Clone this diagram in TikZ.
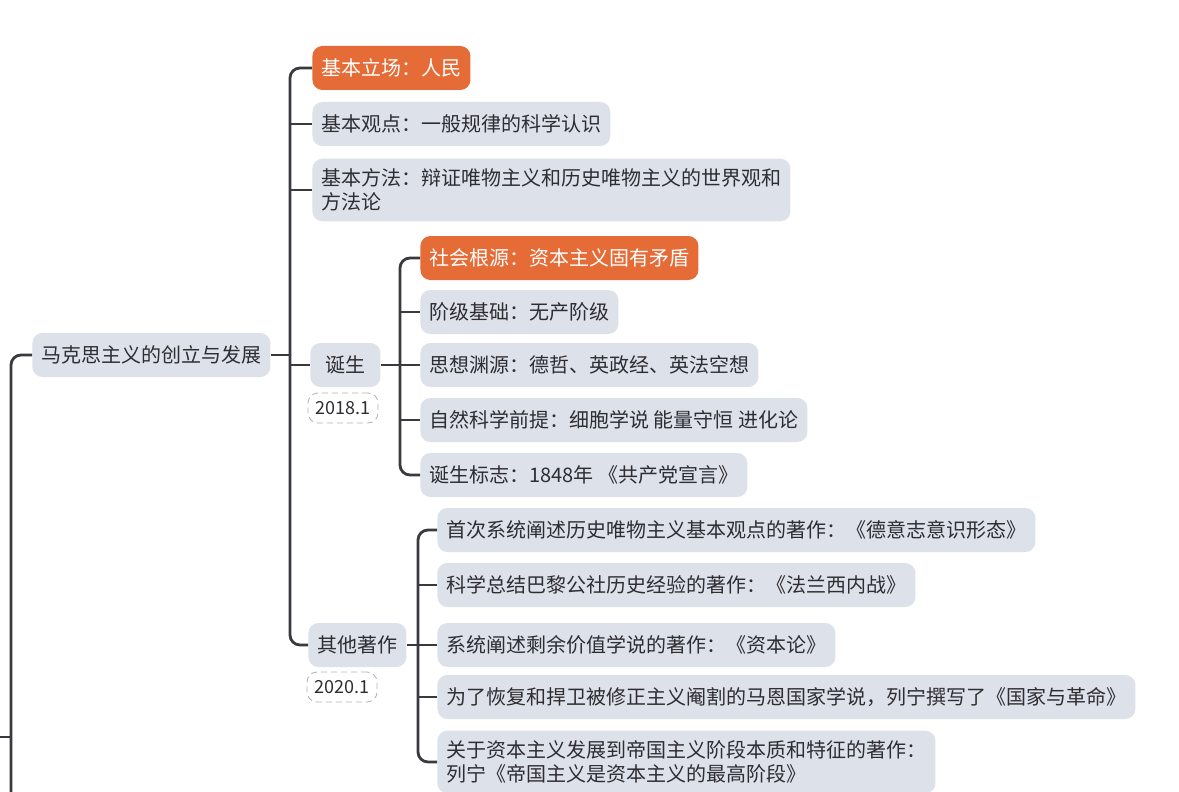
\documentclass[tikz,border=0pt]{standalone}
\usepackage{fontspec}
\setmainfont{Noto Sans CJK SC}
\definecolor{boxgray}{RGB}{221,225,233}
\definecolor{boxorange}{RGB}{229,107,55}
\definecolor{linegray}{RGB}{58,58,62}
\definecolor{textgray}{RGB}{45,45,50}
\tikzset{
  topic/.style={rounded corners=5pt, fill=boxgray, text=textgray, anchor=west, inner xsep=4.5pt, inner ysep=5pt, minimum height=22pt, font=\fontsize{10}{12}\selectfont, align=left},
  key/.style={topic, fill=boxorange, text=white},
  datetag/.style={rounded corners=5pt, draw=gray!60, densely dashed, fill=white, text=textgray, font=\fontsize{9}{11}\selectfont, minimum width=35pt, minimum height=15pt, inner sep=1pt},
  link/.style={draw=linegray, line width=1.4pt, rounded corners=5pt},
}
\begin{document}
\begin{tikzpicture}[x=0.5pt,y=-0.5pt]
    \useasboundingbox (0,0) rectangle (1179,792);
    \clip (0,0) rectangle (1179,792);

    % root
    \node[topic] (root) at (32,355) {马克思主义的创立与发展};

    % first level
    \node[key] (stand) at (312,68) {基本立场：人民};
    \node[topic] (view) at (312,124) {基本观点：一般规律的科学认识};
    \node[topic] (method) at (312,190) {基本方法：辩证唯物主义和历史唯物主义的世界观和\\方法论};
    \node[topic, minimum width=35pt, align=center] (birth) at (310,365) {诞生};
    \node[datetag] (birthdate) at (343,408) {2018.1};
    \node[topic] (works) at (308,645) {其他著作};
    \node[datetag] (worksdate) at (342,687) {2020.1};

    % under birth
    \node[key] (social) at (420,258) {社会根源：资本主义固有矛盾};
    \node[topic] (klass) at (420,312) {阶级基础：无产阶级};
    \node[topic] (ideas) at (420,365) {思想渊源：德哲、英政经、英法空想};
    \node[topic] (science) at (420,420) {自然科学前提：细胞学说 能量守恒 进化论};
    \node[topic] (mark) at (420,475) {诞生标志：1848年 《共产党宣言》};

    % under other works
    \node[topic] (german) at (437,530) {首次系统阐述历史唯物主义基本观点的著作：《德意志意识形态》};
    \node[topic] (france) at (437,585) {科学总结巴黎公社历史经验的著作：《法兰西内战》};
    \node[topic] (capital) at (437,645) {系统阐述剩余价值学说的著作：《资本论》};
    \node[topic] (state) at (437,697) {为了恢复和捍卫被修正主义阉割的马恩国家学说，列宁撰写了《国家与革命》};
    \node[topic] (imperial) at (437,762) {关于资本主义发展到帝国主义阶段本质和特征的著作：\\列宁《帝国主义是资本主义的最高阶段》};

    % connectors
    \coordinate (left) at (11,800);
    \coordinate (stub) at (0,737);
    \coordinate (t0) at (290,355);
    \coordinate (t1) at (400,365);
    \coordinate (t2) at (418,645);

    \draw[link] (left) |- (root.west);
    \draw[link] (stub) -- (stub -| left);

    \draw[link] (root.east) -- (t0);
    \draw[link] (t0) |- (stand.west);
    \draw[link] (t0) |- (works.west);
    \draw[link] (t0 |- view.west) -- (view.west);
    \draw[link] (t0 |- method.west) -- (method.west);
    \draw[link] (t0 |- birth.west) -- (birth.west);

    \draw[link] (birth.east) -- (t1);
    \draw[link] (t1) |- (social.west);
    \draw[link] (t1) |- (mark.west);
    \draw[link] (t1 |- klass.west) -- (klass.west);
    \draw[link] (t1 |- ideas.west) -- (ideas.west);
    \draw[link] (t1 |- science.west) -- (science.west);

    \draw[link] (works.east) -- (t2);
    \draw[link] (t2) |- (german.west);
    \draw[link] (t2) |- (imperial.west);
    \draw[link] (t2 |- france.west) -- (france.west);
    \draw[link] (t2 |- capital.west) -- (capital.west);
    \draw[link] (t2 |- state.west) -- (state.west);
\end{tikzpicture}
\end{document}
